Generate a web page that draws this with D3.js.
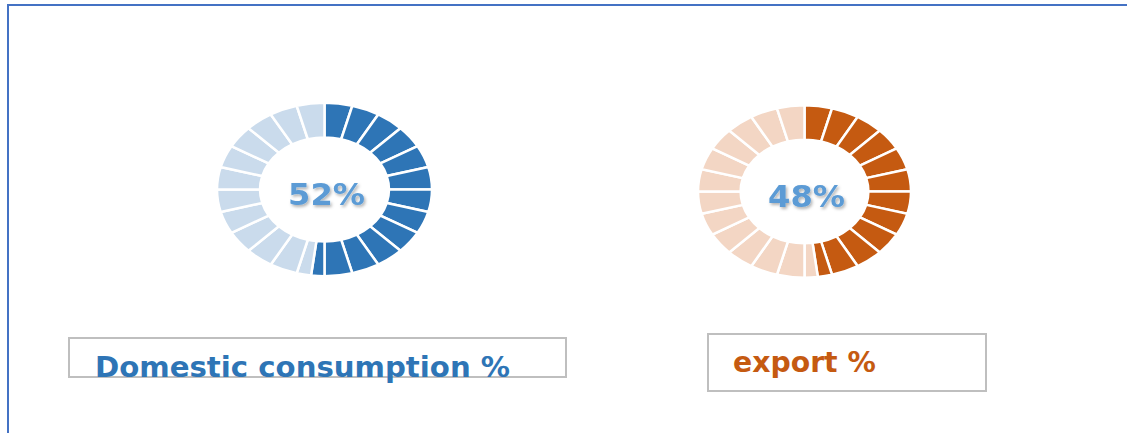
<!DOCTYPE html>
<meta charset="utf-8">
<style>
body { margin: 0; background: #fff; }
svg { display: block; }
.label { font-family: "DejaVu Sans", Verdana, sans-serif; font-weight: bold; }
</style>
<body>
<script src="https://d3js.org/d3.v7.min.js"></script>
<div id="draw"></div>
<script>

var labels = ["Domestic consumption %", "export %"];
var values = [52, 48];
var centerText = ["52%", "48%"];
var segmentCount = 24;
var darkColors = ["#2E75B6", "#C55A11"];
var lightColors = ["#CADBEC", "#F3D6C4"];
var labelColors = ["#2E75B6", "#C55A11"];

var width = 1127, height = 433;

var svg = d3.select("#draw").append("svg")
    .attr("width", width)
    .attr("height", height);

var defs = svg.append("defs");
var shadow = defs.append("filter").attr("id", "shadow")
    .attr("x", "-20%").attr("y", "-20%").attr("width", "140%").attr("height", "140%");
shadow.append("feDropShadow")
    .attr("dx", 1.5).attr("dy", 2)
    .attr("stdDeviation", 1.5)
    .attr("flood-color", "#000")
    .attr("flood-opacity", 0.3);

// outer frame
svg.append("path")
    .attr("d", "M8," + height + "V5H" + width)
    .attr("fill", "none")
    .attr("stroke", "#4472C4")
    .attr("stroke-width", 2);

// ring layout (centre, radii x/y)
var rings = [
  {cx: 324.5, cy: 189.5, rx: 107.5, ry: 86.7},
  {cx: 804.5, cy: 191.5, rx: 106.5, ry: 86.2}
];
var boxes = [
  {x: 69, y: 338, w: 497, h: 39, tx: 95, ty: 377, size: 29.2},
  {x: 708, y: 334, w: 278, h: 57, tx: 733, ty: 372, size: 28.3}
];

// build segment pieces: each 1/24 segment, the one holding the boundary is split
function pieces(pct) {
  var out = [];
  var filled = pct / 100 * segmentCount;
  for (var i = 0; i < segmentCount; i++) {
    if (i + 1 <= filled) out.push({value: 1, dark: true});
    else if (i >= filled) out.push({value: 1, dark: false});
    else {
      out.push({value: filled - i, dark: true});
      out.push({value: i + 1 - filled, dark: false});
    }
  }
  return out;
}

var pie = d3.pie().sort(null).value(function(d) { return d.value; });

values.forEach(function(v, k) {
  var r = rings[k];
  var R = r.ry;
  var arc = d3.arc().innerRadius(R * 0.6).outerRadius(R);

  var g = svg.append("g")
      .attr("transform", "translate(" + r.cx + "," + r.cy + ") scale(" + (r.rx / r.ry) + ",1)");

  g.selectAll("path")
    .data(pie(pieces(v)))
    .enter().append("path")
      .attr("d", arc)
      .attr("fill", function(d) { return d.data.dark ? darkColors[k] : lightColors[k]; })
      .attr("stroke", "#fff")
      .attr("stroke-width", 2.5)
      .attr("vector-effect", "non-scaling-stroke");

  svg.append("text")
      .attr("class", "label")
      .attr("x", r.cx + 2)
      .attr("y", r.cy + 15)
      .attr("text-anchor", "middle")
      .attr("font-size", 31)
      .attr("fill", "#5B9BD5")
      .attr("filter", "url(#shadow)")
      .attr("textLength", 77)
      .attr("lengthAdjust", "spacingAndGlyphs")
      .text(centerText[k]);

  var b = boxes[k];
  svg.append("rect")
      .attr("x", b.x).attr("y", b.y)
      .attr("width", b.w).attr("height", b.h)
      .attr("fill", "#fff")
      .attr("stroke", "#BFBFBF")
      .attr("stroke-width", 2);

  svg.append("text")
      .attr("class", "label")
      .attr("x", b.tx)
      .attr("y", b.ty)
      .attr("font-size", b.size)
      .attr("fill", labelColors[k])
      .text(labels[k]);
});

</script>
